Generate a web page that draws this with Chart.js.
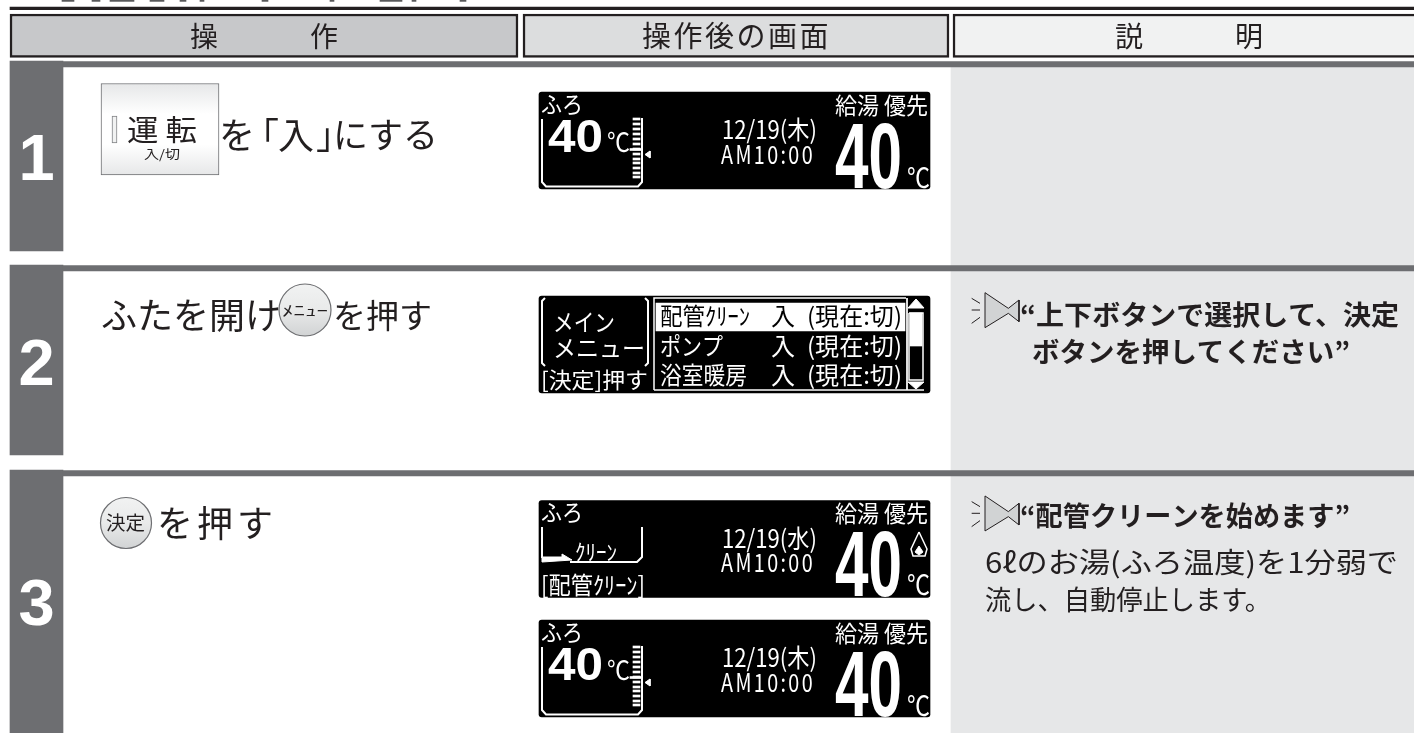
<!DOCTYPE html>
<html>
<head>
<meta charset="utf-8">
<style>
    html, body { margin: 0; padding: 0; background: #fff; overflow: hidden; }
    canvas { display: block; }
</style>
<script src="https://cdn.jsdelivr.net/npm/chart.js@4"></script>
</head>
<body>
<canvas id="panel" width="1414" height="733"></canvas>
<script>
// Table text
const headerLabels = ['操　　作', '操作後の画面', '説　　明'];
const stepNumbers = ['1', '2', '3'];
const stepTwoTexts = ['ふたを開け', 'を押す'];
const stepThreeText = 'を押す';
const menuButton = 'ﾒﾆｭｰ';
const decideButton = '決定';
const runButton = ['運 転', '入/切'];
const explainTwo = ['“上下ボタンで選択して、決定', 'ボタンを押してください”'];
const explainThree = ['“配管クリーンを始めます”', '6ℓのお湯(ふろ温度)を1分弱で', '流し、自動停止します。'];

// Screen text
const screenDates = ['12/19(木)', '12/19(水)'];
const screenClock = 'AM10:00';
const bathTemp = '40';
const hotWaterTemp = '40';
const menuItems = ['配管ｸﾘｰﾝ', 'ポンプ', '浴室暖房'];
const menuSide = ['メイン', 'メニュー', '[決定]押す'];

// Table grid, in picture units
const sheetWidth = 1414;
const sheetHeight = 733;
const stepTops = [61, 265, 470];
const stepBottoms = [251, 455, 733];
const headerEdges = [[10, 518], [523, 949], [953, 1425]];
const tankTicks = [119, 124, 129, 134, 139, 144, 149, 154, 159, 163, 168, 173, 177];

const INK = '#231f20';
const STEP_GREY = '#6d6e71';
const JP = '"Noto Sans CJK JP"';
const datasets = [];
const labels = [];

function band(x0, x1, y0, y1, color, extra) {
    datasets.push({
        type: 'bar',
        indexAxis: 'y',
        grouped: false,
        barThickness: y1 - y0,
        borderSkipped: false,
        data: [{ y: (y0 + y1) / 2, x: [x0, x1] }],
        backgroundColor: color,
        ...extra
    });
}

function path(points, color, width, fillColor) {
    datasets.push({
        type: 'scatter',
        showLine: true,
        tension: 0,
        pointRadius: 0,
        borderColor: color,
        borderWidth: width,
        fill: fillColor ? 'shape' : false,
        backgroundColor: fillColor || 'transparent',
        data: points.map(p => ({ x: p[0], y: p[1] }))
    });
}

function verticalGradient(y0, y1, stops) {
    return (c) => {
        const s = c.chart.scales.y;
        const top = s.getPixelForValue(y0);
        const bottom = s.getPixelForValue(y1);
        // scales have no size yet on the very first resolve
        if (!Number.isFinite(top) || !Number.isFinite(bottom)) return stops[0];
        const g = c.chart.ctx.createLinearGradient(0, top, 0, bottom);
        stops.forEach((col, i) => g.addColorStop(i / (stops.length - 1), col));
        return g;
    };
}

function roundButton(x, y, r) {
    datasets.push({
        type: 'scatter',
        pointRadius: r,
        pointBorderWidth: 1.2,
        pointBorderColor: '#6d6e71',
        pointBackgroundColor: verticalGradient(y - r, y + r, ['#f1f2f2', '#e9eaea', '#d1d3d4']),
        data: [{ x, y }]
    });
}

function label(text, x, y, size, opts) {
    labels.push({ text, x, y, size, color: INK, family: JP, weight: '400', ...opts });
}

// the loudspeaker mark next to the spoken messages
function speaker(oy) {
    const px = (zx, zy) => [940 + zx / 3, oy + zy / 3];
    path([px(135, 38), px(205, 85), px(237, 60), px(237, 125), px(205, 100), px(135, 143), px(135, 38)], INK, 1, '#d1d3d4');
    path([px(95, 55), px(120, 70)], INK, 1);
    path([px(95, 90), px(120, 90)], INK, 1);
    path([px(95, 130), px(120, 112)], INK, 1);
}

function screenFrame(top) {
    band(539, 930, top, top + 97, '#000', { borderRadius: 3 });
}

function screenRight(top, dateText, unitOffset) {
    const W = '#fff';
    label(dateText, 722, top + 37.5, 25, { color: W, fit: 95 });
    label(screenClock, 721, top + 62, 25, { color: W, fit: 94, spacing: 3 });
    label('給湯 優先', 835, top + 13, 23, { color: W, fit: 93 });
    label(hotWaterTemp, 835, top + 95.5, 93, { color: W, fit: 67, family: '"Liberation Sans"', weight: '700', base: 'alphabetic' });
    label('℃', 907, top + unitOffset, 27, { color: W, fit: 23 });
    label('ふろ', 541, top + 12, 23, { color: W, fit: 42 });
}

function tankScreen(top) {
    const W = '#fff';
    const d = top - 92;
    screenFrame(top);
    screenRight(top, screenDates[0], 85.5);
    label(bathTemp, 548, top + 60, 47, { color: W, fit: 55, family: '"Liberation Sans"', weight: '700', base: 'alphabetic' });
    label('℃', 607, top + 50, 26, { color: W, fit: 23 });
    path([[542, 119 + d], [542, 182 + d], [546, 186.5 + d], [638, 186.5 + d], [642, 182 + d], [642, 118 + d]], W, 2);
    datasets.push({
        type: 'bar',
        indexAxis: 'y',
        grouped: false,
        barThickness: 2,
        backgroundColor: W,
        data: tankTicks.map(t => ({ y: t + d, x: [633, 640] }))
    });
    band(630, 642, 148.5 + d, 150.5 + d, W);
    path([[645, 154.5 + d], [650, 151 + d], [650, 158 + d], [645, 154.5 + d]], W, 1, W);
}

function menuScreen(top) {
    const W = '#fff';
    screenFrame(top);
    path([[545, 298], [542, 301], [542, 363], [545, 366]], W, 2);
    path([[645, 298], [648, 301], [648, 363], [645, 366]], W, 2);
    label(menuSide[0], 553, 322, 24, { color: W, fit: 62 });
    label(menuSide[1], 553, 348, 24, { color: W, fit: 92 });
    label(menuSide[2], 541, 380, 22, { color: W, fit: 107 });

    path([[654, 390], [654, 298], [906, 298]], W, 1.5);
    path([[654, 390], [924, 390]], W, 1.5);
    band(656, 905, 303, 331, W);
    path([[907, 298], [907, 390]], W, 1);

    // scroll bar
    path([[908, 308], [916, 299], [924, 308], [908, 308]], W, 1, W);
    path([[909, 313], [923, 313], [923, 380], [909, 380], [909, 313]], W, 1.5);
    band(910, 922, 313, 346, W);
    path([[908, 382], [924, 382], [916, 389], [908, 382]], W, 1, W);

    const rows = [316, 346, 375];
    const fits = [90, 63, 87];
    rows.forEach((y, i) => {
        const col = i === 0 ? '#000' : W;
        label(menuItems[i], 660, y, 24, { color: col, fit: fits[i] });
        label('入', 771, y, 24, { color: col });
        label('(現在:切)', 807, y, 24, { color: col, fit: 95 });
    });
}

function cleanScreen(top) {
    const W = '#fff';
    screenFrame(top);
    screenRight(top, screenDates[1], 84);
    path([[542, 527], [542, 558]], W, 2);
    path([[642, 527], [642, 557], [637, 562], [570, 562]], W, 2);
    path([[542, 557], [562, 557], [562, 554], [572, 560], [542, 562], [542, 557]], W, 1, W);
    label('ｸﾘｰﾝ', 575, 552, 22, { color: W, fit: 42 });
    label('[配管ｸﾘｰﾝ]', 541, 585, 24, { color: W, fit: 104 });
    // flame mark
    path([[919, 532], [927, 549], [925, 556], [913, 556], [911, 549], [919, 532]], W, 1.5);
    path([[919, 546], [923, 552], [919, 555], [915, 552], [919, 546]], W, 1, W);
}

// ---- build the sheet, back to front ----
band(10, sheetWidth, 7, 9.7, INK);
// the cropped heading above the rule, only its last pixels show
datasets.push({
    type: 'bar',
    indexAxis: 'y',
    grouped: false,
    barThickness: 1.6,
    backgroundColor: '#58595b',
    data: [[62, 74], [92, 100], [110, 134], [150, 164], [180, 186], [200, 204], [262, 268], [330, 334], [380, 402], [412, 416], [460, 466]]
        .map(r => ({ y: 0.6, x: r }))
});

// grey explanation panel sits behind the step rules
band(951, sheetWidth, 67, sheetHeight, '#e6e7e8');

const headerFills = ['#c7c8ca', '#dcddde', '#f1f2f2'];
headerEdges.forEach((edge, i) => {
    band(edge[0], edge[1], 14, 57.5, headerFills[i], { borderColor: INK, borderWidth: 2.5 });
});

stepTops.forEach((top, i) => {
    band(10, 63, top, stepBottoms[i], STEP_GREY);
    band(63, sheetWidth, top + 0.7, top + 6, STEP_GREY);
});

// header text
label(headerLabels[0], 190, 36, 28, { spacing: 12 });
label(headerLabels[1], 642, 36, 29, { spacing: 2.5 });
label(headerLabels[2], 1115, 36, 28, { spacing: 12 });

// step numbers
const numberBaselines = [180, 385, 625];
stepNumbers.forEach((n, i) => {
    label(n, 36.5, numberBaselines[i], 65, {
        color: '#fff', family: '"Liberation Sans"', weight: '700', base: 'alphabetic', align: 'center'
    });
});

// step 1
band(101, 219, 83.5, 175, verticalGradient(83.5, 175, ['#e6e7e8', '#ffffff', '#ffffff', '#e6e7e8']),
    { borderColor: '#6d6e71', borderWidth: 1 });
band(112, 117, 116, 143, '#f1f2f2', { borderColor: '#808285', borderWidth: 1 });
label(runButton[0], 127, 130, 29, { fit: 70 });
label(runButton[1], 144, 154, 12.5, { fit: 36 });
label('を', 219, 135, 36);
label('「', 243, 135, 36);
label('入', 278, 135, 36);
label('」', 316, 135, 36);
label('にする', 333, 135, 35);

// step 2
label(stepTwoTexts[0], 101, 315, 36);
roundButton(305, 310, 26);
label(menuButton, 282, 310, 15, { fit: 46 });
label(stepTwoTexts[1], 333, 315, 33);

// step 3
roundButton(126, 523, 25.5);
label(decideButton, 106, 523, 19.5, { fit: 39 });
label(stepThreeText, 157, 523, 36, { spacing: 4 });

// screens
tankScreen(92);
menuScreen(296);
cleanScreen(500.5);
tankScreen(620);

// explanations
speaker(280);
label(explainTwo[0], 1020, 315, 27, { weight: '700', fit: 379 });
label(explainTwo[1], 1032, 352, 27, { weight: '700', fit: 318 });
speaker(483.3);
label(explainThree[0], 1020, 516, 27, { weight: '700', fit: 330 });
label(explainThree[1], 985, 562, 28, { fit: 413 });
label(explainThree[2], 985, 600, 27, { fit: 286 });

// later datasets have to land on top
datasets.forEach((d, i) => { d.order = -i; });

// writes the table text at scale positions
const tableLabels = {
    id: 'tableLabels',
    afterDatasetsDraw(chart) {
        const { ctx, scales } = chart;
        labels.forEach(l => {
            ctx.save();
            ctx.font = `${l.weight} ${l.size}px ${l.family}`;
            ctx.fillStyle = l.color;
            ctx.textBaseline = l.base || 'middle';
            ctx.textAlign = l.align || 'left';
            if (l.spacing) ctx.letterSpacing = `${l.spacing}px`;
            const px = scales.x.getPixelForValue(l.x);
            const py = scales.y.getPixelForValue(l.y);
            ctx.translate(px, py);
            if (l.fit) ctx.scale(l.fit / ctx.measureText(l.text).width, 1);
            ctx.fillText(l.text, 0, 0);
            ctx.restore();
        });
    }
};

new Chart(document.getElementById('panel'), {
    type: 'bar',
    data: { datasets },
    plugins: [tableLabels],
    options: {
        responsive: false,
        animation: false,
        layout: { padding: 0, autoPadding: false },
        scales: {
            x: { type: 'linear', offset: false, min: 0, max: sheetWidth, display: false },
            y: { type: 'linear', offset: false, min: 0, max: sheetHeight, reverse: true, display: false }
        },
        plugins: {
            legend: { display: false },
            tooltip: { enabled: false }
        }
    }
});
</script>
</body>
</html>
